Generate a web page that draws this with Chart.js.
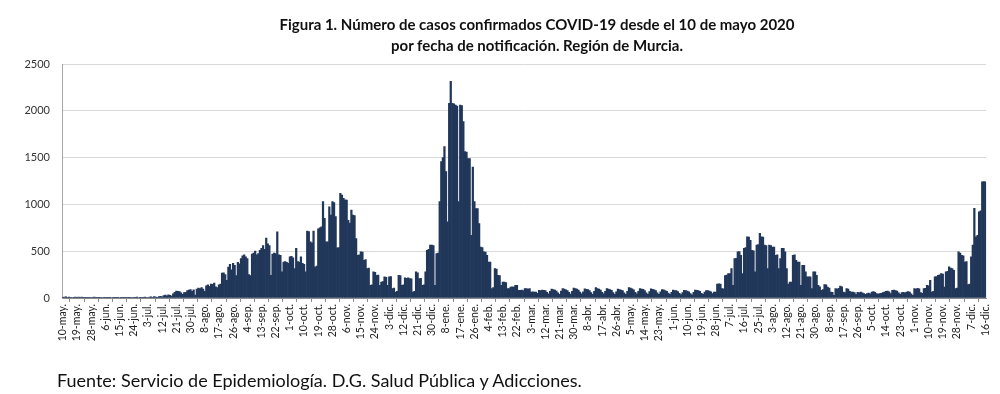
<!DOCTYPE html>
<html lang="es">
<head>
<meta charset="utf-8">
<title>Casos confirmados COVID-19 - Región de Murcia</title>
<script src="https://cdn.jsdelivr.net/npm/chart.js@4.4.1/dist/chart.umd.min.js"></script>
<style>
  html, body { margin: 0; padding: 0; background: #fff; }
  #wrap { position: relative; width: 1000px; height: 394px; font-family: Lato, "Open Sans", sans-serif; }
  #grafico { position: absolute; left: 0; top: 0; width: 1000px; height: 394px; }
  #titulo { position: absolute; top: 14px; left: 0; width: 1074px; text-align: center;
            font-weight: bold; font-size: 15px; line-height: 21px; color: #111; }
  #fuente { position: absolute; top: 369px; left: 57px; font-size: 18px; line-height: 22px; color: #111; }
</style>
</head>
<body>
<div id="wrap">
  <div id="grafico"><canvas id="casos-chart"></canvas></div>
  <div id="titulo">Figura 1. Número de casos confirmados COVID-19 desde el 10 de mayo 2020<br>por fecha de notificación. Región de Murcia.</div>
  <div id="fuente">Fuente: Servicio de Epidemiología. D.G. Salud Pública y Adicciones.</div>
</div>
<script>
// meses tal como aparecen en el eje
var meses = ['ene','feb','mar','abr','may','jun','jul','ago','sep','oct','nov','dic'];
var fechaInicio = [2020, 4, 10]; // 10 de mayo de 2020
var pasoEtiquetas = 9;           // una etiqueta cada 9 días
var ticksY = [0, 500, 1000, 1500, 2000, 2500];

// casos diarios, 10-may-2020 .. 31-dic-2020 (filas de 9 días)
var casos2020 = [
  6,9,12,8,10,7,5,4,11,
  8,10,6,9,7,3,4,8,6,
  5,7,9,4,3,6,8,5,7,
  3,2,6,4,5,7,3,2,4,
  5,6,3,8,4,2,3,6,5,
  4,7,9,5,3,6,8,10,7,
  5,9,12,8,15,10,6,14,18,
  12,25,30,22,35,28,20,45,60,
  75,70,68,55,40,57,60,78,85,
  90,72,88,30,95,105,100,110,95,
  70,130,140,125,150,145,160,120,110,
  140,150,265,270,250,190,330,360,300,
  370,350,240,380,365,420,450,460,440,
  420,250,240,470,480,500,460,475,510,
  530,560,520,640,580,560,243,470,480,
  475,707,460,455,280,385,390,380,370,
  440,445,430,314,530,390,385,440,370,
  360,280,715,710,600,590,715,330,340,
  740,750,760,1030,850,600,600,975,885,
  1030,1020,870,535,540,1118,1100,1065,1050,
  1045,830,800,940,885,880,635,457,460,
  493,490,403,410,314,320,135,140,280,
  275,243,245,135,170,175,225,220,135,
  225,230,100,105,64,70,243,240,135,
  140,215,210,215,207,205,64,70,280,
  270,207,210,135,140,280,510,520,565,
  565,560
];

// casos diarios, 1-ene-2021 .. 16-dic-2021
var casos2021 = [
  135,475,480,1030,1457,1500,1617,1350,815,
  2080,2314,2080,2075,2060,2050,1030,2060,2055,
  1885,1565,1560,1490,1490,670,1400,1030,955,
  955,795,545,540,493,490,457,385,385,
  100,110,314,310,243,240,135,170,170,
  165,100,100,118,120,118,135,135,82,
  82,84,80,100,100,95,100,64,66,
  64,62,50,82,80,84,82,80,60,
  45,70,95,90,85,75,55,40,75,
  100,95,88,80,60,42,70,105,100,
  95,85,62,45,65,98,92,90,80,
  58,40,70,110,100,95,85,60,45,
  72,100,96,90,82,58,40,65,95,
  90,85,78,55,38,70,112,105,98,
  88,60,44,70,100,95,92,80,56,
  40,68,98,92,88,78,55,40,65,
  90,86,80,70,52,38,60,85,80,
  78,68,50,36,58,82,80,75,66,
  48,35,60,85,82,78,70,50,38,
  62,80,78,75,66,48,64,64,150,
  152,148,100,98,240,245,260,262,314,
  135,420,425,493,495,457,260,530,540,
  653,650,617,510,505,280,565,570,690,
  653,650,565,560,314,565,560,545,545,
  457,460,314,420,530,530,493,314,150,
  170,170,457,460,403,385,385,135,350,
  350,280,225,225,225,100,280,280,243,
  135,120,82,90,143,140,118,105,64,
  60,29,100,95,104,128,120,64,58,
  100,96,70,64,62,58,40,60,57,
  62,54,46,40,48,52,45,64,68,
  60,48,42,46,50,57,62,71,74,
  66,48,82,85,80,74,55,40,57,
  60,56,64,68,62,45,29,100,96,
  104,98,57,50,100,104,135,130,190,
  64,70,225,230,243,248,260,255,118,
  280,285,332,320,314,296,100,105,493,
  480,457,450,385,390,143,150,440,565,
  957,653,670,920,930,1240,1245,1242
];

var casos = casos2020.concat(casos2021);
var etiquetas = casos.map(function(v, i){
    var d = new Date(fechaInicio[0], fechaInicio[1], fechaInicio[2] + i);
    return d.getDate() + '-' + meses[d.getMonth()] + '.';
});

var ctx = document.getElementById('casos-chart');
new Chart(ctx, {
    type: 'bar',
    data: {
        labels: etiquetas,
        datasets: [{
            label: 'Casos confirmados',
            data: casos,
            backgroundColor: '#21375a',
            borderWidth: 0,
            barPercentage: 1,
            categoryPercentage: 1
        }]
    },
    options: {
        responsive: true,
        maintainAspectRatio: false,
        animation: false,
        layout: { padding: { top: 64, right: 10, left: 0, bottom: 0 } },
        plugins: { legend: { display: false }, tooltip: { enabled: false } },
        scales: {
            x: {
                offset: true,
                grid: { drawOnChartArea: false, drawTicks: true, tickLength: 4, color: '#8c8c8c' },
                border: { color: '#8c8c8c' },
                ticks: {
                    autoSkip: false, maxRotation: 90, minRotation: 90, padding: 2,
                    color: '#222', font: { family: 'Lato', size: 10.5 }
                },
                afterBuildTicks: function(s){
                    s.ticks = s.ticks.filter(function(t){ return t.value % pasoEtiquetas === 0; });
                },
                afterFit: function(s){ s.height = 96; }
            },
            y: {
                min: 0, max: 2500,
                grid: { color: '#d9d9d9', lineWidth: 1, drawTicks: false },
                border: { color: '#a6a6a6' },
                ticks: {
                    padding: 12, color: '#333', font: { family: 'Lato', size: 11 },
                    callback: function(v){ return String(v); }
                },
                afterBuildTicks: function(s){
                    s.ticks = ticksY.map(function(v){ return { value: v }; });
                },
                afterFit: function(s){ s.width = 62; }
            }
        }
    }
});
</script>
</body>
</html>
